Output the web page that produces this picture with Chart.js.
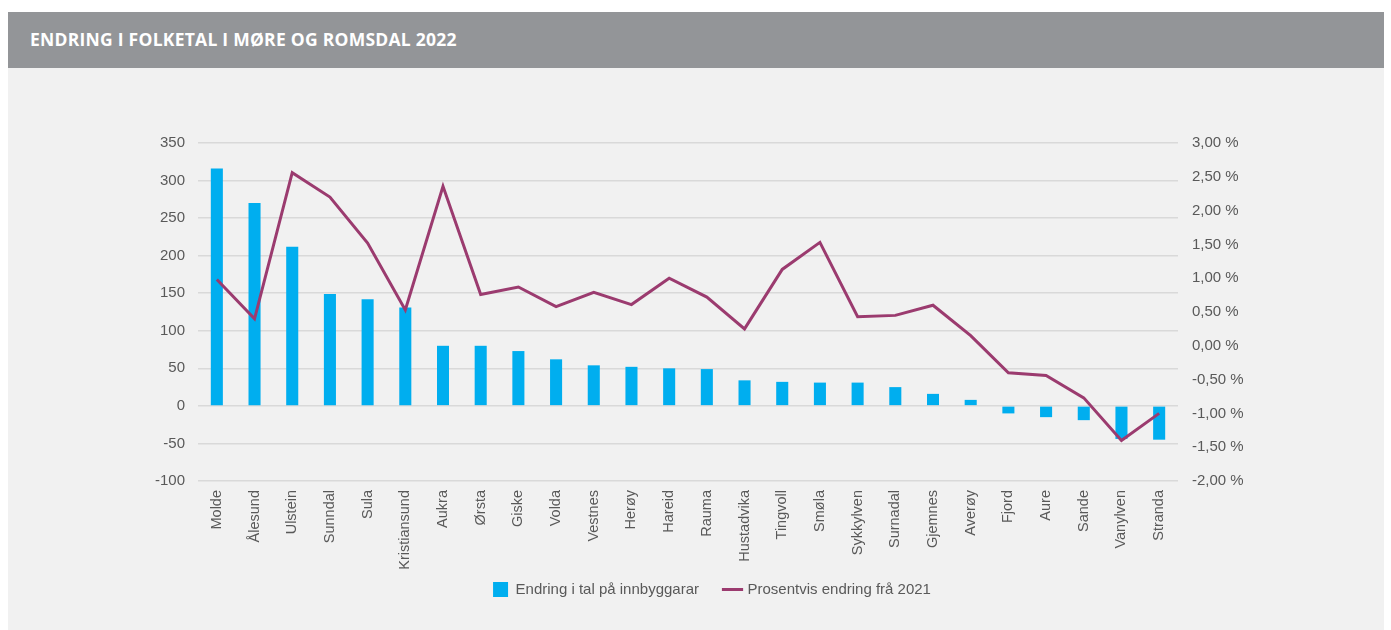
<!DOCTYPE html>
<html>
<head>
<meta charset="utf-8">
<script src="https://cdn.jsdelivr.net/npm/chart.js@4.4.1/dist/chart.umd.min.js"></script>
<style>
  html, body { margin: 0; padding: 0; background: #ffffff; }
  #frame { position: absolute; left: 8px; top: 12px; width: 1376px; height: 618px; background: #f1f1f1; }
  #header { position: absolute; left: 0; top: 0; width: 1376px; height: 56px; background: #939598; }
  #title { position: absolute; left: 22px; top: -1.5px; line-height: 56px; color: #ffffff; font-family: "Open Sans", sans-serif; font-weight: 700; font-size: 17.5px; letter-spacing: 0.25px; white-space: nowrap; }
  #wrap { position: absolute; left: 0; top: 55px; width: 1376px; height: 563px; }
</style>
</head>
<body>
<div id="frame">
  <div id="header"><div id="title">ENDRING I FOLKETAL I MØRE OG ROMSDAL 2022</div></div>
  <div id="wrap"><canvas id="c" width="1376" height="563"></canvas></div>
</div>
<script>
const categories = ['Molde','Ålesund','Ulstein','Sunndal','Sula','Kristiansund','Aukra','Ørsta','Giske','Volda','Vestnes','Herøy','Hareid','Rauma','Hustadvika','Tingvoll','Smøla','Sykkylven','Surnadal','Gjemnes','Averøy','Fjord','Aure','Sande','Vanylven','Stranda'];
const changeCount = [316,270,212,149,142,131,80,80,73,62,54,52,50,49,34,32,31,31,25,16,8,-10,-15,-19,-44,-45];
const changePct = [0.98,0.40,2.56,2.20,1.52,0.53,2.36,0.76,0.87,0.58,0.79,0.61,1.00,0.72,0.25,1.13,1.53,0.43,0.45,0.60,0.15,-0.40,-0.44,-0.77,-1.40,-1.00];
const seriesNames = ['Endring i tal på innbyggarar', 'Prosentvis endring frå 2021'];

const FONT = '"Liberation Sans", Arial, sans-serif';
const TXT = '#595959';

new Chart(document.getElementById('c'), {
  data: {
    labels: categories,
    datasets: [
      {
        type: 'line', label: seriesNames[1], data: changePct, yAxisID: 'y1',
        borderColor: '#9b3b6f', backgroundColor: '#9b3b6f', borderWidth: 3,
        pointRadius: 0, tension: 0, order: 0, pointStyle: 'line'
      },
      {
        type: 'bar', label: seriesNames[0], data: changeCount, yAxisID: 'y',
        backgroundColor: '#00aeef', borderWidth: 0, order: 1,
        barPercentage: 0.32, categoryPercentage: 1.0, pointStyle: 'rect'
      }
    ]
  },
  options: {
    responsive: false,
    animation: false,
    layout: { padding: { top: 76, left: 32, right: 0, bottom: 23 } },
    plugins: {
      tooltip: { enabled: false },
      legend: {
        position: 'bottom',
        reverse: true,
        labels: {
          usePointStyle: true,
          boxWidth: 15, boxHeight: 15,
          padding: 26,
          color: TXT,
          font: { family: FONT, size: 15 },
          generateLabels: (chart) => chart.data.datasets.map((ds, i) => ({
            text: ds.label,
            fillStyle: ds.type === 'bar' ? ds.backgroundColor : ds.borderColor,
            strokeStyle: ds.type === 'bar' ? ds.backgroundColor : ds.borderColor,
            lineWidth: ds.type === 'bar' ? 0 : 3,
            pointStyle: ds.type === 'bar' ? 'rect' : 'line',
            fontColor: TXT,
            hidden: false,
            datasetIndex: i
          }))
        }
      }
    },
    scales: {
      x: {
        grid: { display: false },
        border: { display: false },
        afterFit: (s) => {
          s.height = 75;
          // let the rotated category labels extend below the axis box (as in the original)
          s._computeLabelArea = () => undefined;
        },
        ticks: {
          color: TXT, font: { family: FONT, size: 14.5 },
          minRotation: 90, maxRotation: 90, autoSkip: false, padding: 1
        }
      },
      y: {
        position: 'left',
        min: -100, max: 350,
        afterFit: (s) => { s.width = 158; },
        grid: { color: '#d9d9d9', lineWidth: 1.5, drawTicks: false },
        border: { display: false },
        ticks: { stepSize: 50, color: TXT, font: { family: FONT, size: 15 }, padding: 13 }
      },
      y1: {
        position: 'right',
        min: -2, max: 3,
        afterFit: (s) => { s.width = 206; },
        grid: { drawOnChartArea: false, drawTicks: false },
        border: { display: false },
        ticks: {
          stepSize: 0.5, color: TXT, font: { family: FONT, size: 15 }, padding: 14,
          callback: (v) => v.toFixed(2).replace('.', ',') + ' %'
        }
      }
    }
  }
});
</script>
</body>
</html>
